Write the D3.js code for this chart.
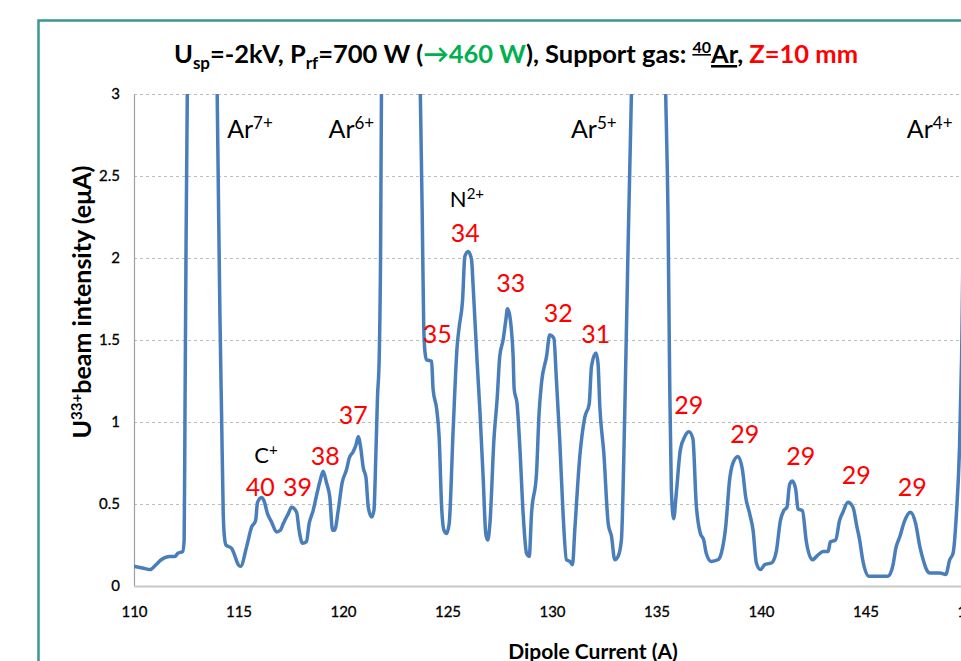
<!DOCTYPE html>
<html>
<head>
<meta charset="utf-8">
<script src="https://cdn.jsdelivr.net/npm/d3@7"></script>
<style>
  html, body { margin: 0; padding: 0; background: #fff; }
  svg { display: block; font-family: Lato, "Open Sans", sans-serif; }
</style>
</head>
<body>
<svg id="chart" width="961" height="661"></svg>
<script>
// Dipole current scan (A) and U33+ beam intensity (eμA)
const current = [
  110.00, 110.40, 110.77, 111.05, 111.30, 111.70, 111.96, 112.10, 112.33, 112.40,
  112.44, 112.49, 112.55, 113.27, 113.98, 114.03, 114.11, 114.19, 114.27, 114.32,
  114.40, 114.67, 114.78, 114.99, 115.10, 115.39, 115.63, 115.82, 115.91, 116.10,
  116.22, 116.39, 116.58, 116.82, 117.00, 117.14, 117.38, 117.54, 117.78, 117.90,
  118.06, 118.25, 118.38, 118.57, 118.73, 118.90, 119.05, 119.21, 119.37, 119.50,
  119.60, 119.77, 119.96, 120.17, 120.30, 120.49, 120.62, 120.73, 120.84, 120.97,
  121.10, 121.21, 121.37, 121.48, 121.57, 121.65, 121.73, 121.80, 121.84, 122.76,
  123.70, 123.79, 123.86, 123.92, 124.00, 124.24, 124.31, 124.48, 124.60, 124.72,
  124.83, 124.95, 125.08, 125.27, 125.46, 125.56, 125.72, 125.83, 125.99, 126.15,
  126.23, 126.42, 126.55, 126.71, 126.83, 126.92, 127.03, 127.22, 127.38, 127.50,
  127.66, 127.79, 127.87, 128.06, 128.14, 128.19, 128.33, 128.46, 128.62, 128.78,
  128.91, 129.02, 129.26, 129.38, 129.50, 129.74, 129.89, 130.09, 130.21, 130.37,
  130.53, 130.69, 130.85, 130.98, 131.09, 131.33, 131.57, 131.78, 131.89, 132.10,
  132.20, 132.29, 132.48, 132.69, 132.85, 133.00, 133.16, 133.32, 133.48, 133.64,
  133.80, 134.62, 135.44, 135.55, 135.63, 135.71, 135.82, 135.95, 136.14, 136.35,
  136.55, 136.74, 136.90, 137.10, 137.26, 137.38, 137.62, 137.94, 138.10, 138.31,
  138.50, 138.66, 138.90, 139.11, 139.27, 139.46, 139.62, 139.78, 139.97, 140.18,
  140.50, 140.73, 140.93, 141.09, 141.24, 141.37, 141.50, 141.66, 141.77, 141.98,
  142.17, 142.46, 142.73, 142.97, 143.21, 143.32, 143.57, 143.76, 143.92, 144.16,
  144.40, 144.59, 144.72, 144.88, 145.17, 146.08, 146.32, 146.45, 146.64, 146.88,
  147.15, 147.40, 147.60, 147.76, 147.92, 148.07, 148.55, 148.84, 149.03, 149.19,
  149.35, 149.50, 149.60, 149.70, 149.80
];
const intensity = [
  0.12, 0.11, 0.10, 0.13, 0.16, 0.18, 0.18, 0.20, 0.21, 0.28,
  1.05, 2.07, 3.00, 6.50, 3.00, 2.48, 1.66, 1.05, 0.44, 0.31,
  0.25, 0.23, 0.20, 0.13, 0.12, 0.24, 0.36, 0.40, 0.51, 0.54,
  0.52, 0.44, 0.39, 0.33, 0.34, 0.38, 0.44, 0.48, 0.45, 0.34,
  0.26, 0.27, 0.38, 0.46, 0.55, 0.64, 0.70, 0.63, 0.54, 0.34,
  0.34, 0.46, 0.63, 0.71, 0.78, 0.82, 0.86, 0.91, 0.85, 0.72,
  0.66, 0.48, 0.42, 0.46, 0.79, 1.15, 1.38, 2.07, 3.00, 8.00,
  3.00, 2.27, 1.60, 1.43, 1.38, 1.37, 1.20, 1.08, 0.91, 0.48,
  0.34, 0.32, 0.38, 0.95, 1.46, 1.58, 1.74, 2.01, 2.04, 1.99,
  1.82, 1.36, 1.07, 0.65, 0.32, 0.28, 0.38, 0.89, 1.15, 1.40,
  1.50, 1.62, 1.69, 1.56, 1.40, 1.20, 1.11, 0.85, 0.44, 0.20,
  0.18, 0.44, 0.69, 1.05, 1.24, 1.40, 1.53, 1.51, 1.26, 0.89,
  0.44, 0.16, 0.15, 0.13, 0.34, 0.79, 1.03, 1.11, 1.34, 1.42,
  1.36, 1.09, 0.81, 0.38, 0.30, 0.16, 0.18, 0.28, 1.05, 2.07,
  3.00, 9.00, 3.00, 2.27, 1.26, 0.59, 0.41, 0.57, 0.83, 0.91,
  0.94, 0.90, 0.50, 0.32, 0.28, 0.20, 0.15, 0.16, 0.20, 0.36,
  0.65, 0.75, 0.79, 0.71, 0.54, 0.44, 0.34, 0.14, 0.10, 0.13,
  0.14, 0.21, 0.40, 0.46, 0.48, 0.62, 0.64, 0.59, 0.47, 0.46,
  0.27, 0.16, 0.19, 0.21, 0.21, 0.27, 0.28, 0.40, 0.45, 0.51,
  0.48, 0.36, 0.28, 0.15, 0.06, 0.06, 0.13, 0.23, 0.30, 0.40,
  0.45, 0.38, 0.24, 0.16, 0.10, 0.08, 0.08, 0.07, 0.16, 0.20,
  0.44, 0.85, 1.40, 2.40, 3.50
];

// Axis ticks
const xTicks = [110, 115, 120, 125, 130, 135, 140, 145, 150];
const yTicks = [0, 0.5, 1, 1.5, 2, 2.5, 3];
const yTickLabels = ["0", "0.5", "1", "1.5", "2", "2.5", "3"];

// Ion species marking the saturated peaks: [name, charge, current, intensity]
const ionLabels = [
  ["Ar", "7+", 115.55, 2.73],
  ["Ar", "6+", 120.40, 2.73],
  ["Ar", "5+", 132.00, 2.73],
  ["Ar", "4+", 148.07, 2.73]
];
// Contaminant ions
const minorIons = [
  ["N", "2+", 125.93, 2.31],
  ["C", "+", 116.31, 0.75]
];
// Uranium charge states of the small peaks
const chargeStates = ["40", "39", "38", "37", "35", "34", "33", "32", "31", "29", "29", "29", "29", "29"];
const chargeX = [116.04, 117.82, 119.15, 120.49, 124.51, 125.85, 128.03, 130.30, 132.09, 136.54, 139.22, 141.90, 144.56, 147.24];
const chargeY = [0.55, 0.55, 0.74, 0.99, 1.48, 2.10, 1.79, 1.61, 1.48, 1.05, 0.87, 0.74, 0.62, 0.55];

const svg = d3.select("#chart");
const W = 961, H = 661;
const plot = { left: 134, right: 970, top: 94, bottom: 586 };

const x = d3.scaleLinear().domain([110, 150]).range([plot.left, plot.right]);
const y = d3.scaleLinear().domain([0, 3]).range([plot.bottom, plot.top]);

// outer frame
svg.append("path")
  .attr("d", `M38.5,${H} V20.5 H${W}`)
  .attr("fill", "none")
  .attr("stroke", "#3a9893")
  .attr("stroke-width", 2.5);

// title
const title = svg.append("text")
  .attr("x", 516).attr("y", 63)
  .attr("text-anchor", "middle")
  .attr("font-weight", "bold")
  .attr("font-size", 25.5)
  .attr("fill", "#000");
title.append("tspan").text("U");
title.append("tspan").attr("font-size", 17).attr("dy", 6).text("sp");
title.append("tspan").attr("dy", -6).text("=-2kV, P");
title.append("tspan").attr("font-size", 17).attr("dy", 6).text("rf");
title.append("tspan").attr("dy", -6).text("=700 W (");
title.append("tspan").attr("fill", "#00b050").text("\u2192460 W");
title.append("tspan").text("), Support gas: ");
title.append("tspan").attr("font-size", 16).attr("dy", -10).attr("text-decoration", "underline").text("40");
title.append("tspan").attr("dy", 10).attr("text-decoration", "underline").text("Ar");
title.append("tspan").text(", ");
title.append("tspan").attr("fill", "#ff0000").text("Z=10 mm");

// horizontal grid
svg.append("g")
  .selectAll("line")
  .data(yTicks.filter(d => d > 0))
  .join("line")
  .attr("x1", plot.left).attr("x2", plot.right)
  .attr("y1", d => Math.round(y(d)) + 0.5).attr("y2", d => Math.round(y(d)) + 0.5)
  .attr("stroke", "#bdbdbd")
  .attr("stroke-dasharray", "3,3");

// y axis
const yAxis = svg.append("g")
  .attr("transform", `translate(${plot.left},0)`)
  .call(d3.axisLeft(y).tickValues(yTicks).tickFormat((d, i) => yTickLabels[i]).tickSize(0).tickPadding(14));
yAxis.select(".domain").attr("stroke", "#a0a0a0").attr("stroke-width", 1.2);
yAxis.selectAll("text").attr("font-size", 15).attr("font-family", "Lato, sans-serif")
  .attr("fill", "#000").attr("stroke", "#000").attr("stroke-width", 0.3);

// x axis
const xAxis = svg.append("g")
  .attr("transform", `translate(0,${plot.bottom})`)
  .call(d3.axisBottom(x).tickValues(xTicks).tickFormat(d3.format("d")).tickSize(0).tickPadding(20));
xAxis.select(".domain").attr("stroke", "#c8c8c8").attr("stroke-width", 2);
xAxis.selectAll("text").attr("font-size", 15).attr("font-family", "Lato, sans-serif")
  .attr("fill", "#000").attr("stroke", "#000").attr("stroke-width", 0.3);

// axis titles
const yTitle = svg.append("text")
  .attr("transform", "translate(91,302) rotate(-90)")
  .attr("text-anchor", "middle")
  .attr("font-weight", "bold")
  .attr("font-size", 25)
  .attr("fill", "#000");
yTitle.append("tspan").text("U");
yTitle.append("tspan").attr("font-size", 15).attr("dy", -9).text("33+");
yTitle.append("tspan").attr("dy", 9).text("beam intensity (e\u03bcA)");

svg.append("text")
  .attr("x", 593).attr("y", 659)
  .attr("text-anchor", "middle")
  .attr("font-weight", "bold")
  .attr("font-size", 21)
  .attr("fill", "#000")
  .text("Dipole Current (A)");

// spectrum line
svg.append("clipPath").attr("id", "plotClip")
  .append("rect")
  .attr("x", plot.left).attr("y", plot.top)
  .attr("width", plot.right - plot.left).attr("height", plot.bottom - plot.top);

const line = d3.line()
  .x((d, i) => x(current[i]))
  .y(d => y(d))
  .curve(d3.curveMonotoneX);

svg.append("path")
  .datum(intensity)
  .attr("clip-path", "url(#plotClip)")
  .attr("d", line)
  .attr("fill", "none")
  .attr("stroke", "#4a7ebb")
  .attr("stroke-width", 3.5)
  .attr("stroke-linejoin", "round");

// ion labels
function ionText(g, d, size, supSize, shift) {
  const t = g.append("text")
    .attr("x", x(d[2])).attr("y", y(d[3]))
    .attr("text-anchor", "middle")
    .attr("font-size", size)
    .attr("fill", "#000");
  t.append("tspan").text(d[0]);
  t.append("tspan").attr("font-size", supSize).attr("dy", -shift).text(d[1]);
}
const labels = svg.append("g");
ionLabels.forEach(d => ionText(labels, d, 25, 17, 9));
minorIons.forEach(d => ionText(labels, d, 22, 15, 8));

labels.selectAll("text.charge")
  .data(chargeStates)
  .join("text")
  .attr("class", "charge")
  .attr("x", (d, i) => x(chargeX[i]))
  .attr("y", (d, i) => y(chargeY[i]))
  .attr("text-anchor", "middle")
  .attr("font-size", 25)
  .attr("fill", "#ff0000")
  .text(d => d);
</script>
</body>
</html>
